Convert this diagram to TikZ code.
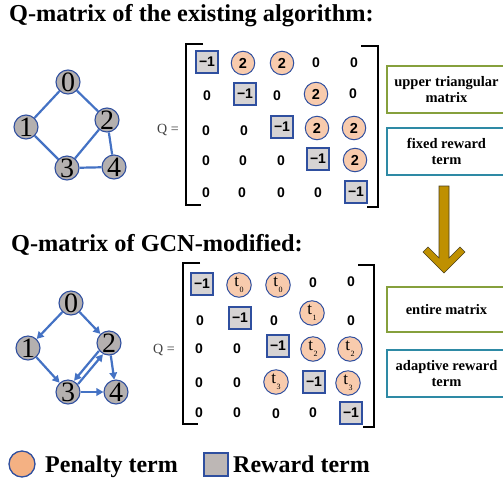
\documentclass[tikz,border=0pt]{standalone}
\usepackage{fontspec}
\setmainfont{Liberation Serif}
\newfontfamily\numfont{Liberation Sans}
\usetikzlibrary{arrows.meta}

\definecolor{edgeblue}{HTML}{4472C4}
\definecolor{rimblue}{HTML}{2F4F9F}
\definecolor{nodegray}{HTML}{B4B0AF}
\definecolor{peach}{HTML}{F8CBAD}
\definecolor{peachdark}{HTML}{F4B183}
\definecolor{cellgray}{HTML}{D6D3D3}
\definecolor{keygray}{HTML}{BDB7B5}
\definecolor{boxgreen}{HTML}{86A03C}
\definecolor{boxteal}{HTML}{2E8AA5}
\definecolor{arrowgold}{HTML}{BF9000}
\definecolor{arrowrim}{HTML}{4A3F1E}

\newcommand{\tsub}[1]{t\kern0.6pt\raisebox{-6pt}{\fontsize{8}{8}\selectfont #1}}

\tikzset{
  gnode/.style={circle, draw=rimblue, fill=nodegray, line width=1.1pt,
    minimum size=24pt, inner sep=0pt, font=\fontsize{28}{28}\selectfont},
  gedge/.style={draw=edgeblue, line width=2.2pt},
  garrow/.style={gedge, -{Triangle[length=7pt,width=7.5pt]}},
  pen/.style={circle, draw=rimblue, fill=peach, line width=1pt,
    minimum size=23.5pt, inner sep=0pt,
    font=\numfont\bfseries\fontsize{14.5}{14.5}\selectfont},
  tpen/.style={pen, minimum size=24.5pt, font=\fontsize{17}{17}\selectfont},
  rew/.style={rectangle, draw=rimblue, fill=cellgray, line width=1.1pt,
    minimum width=22pt, minimum height=22pt, inner sep=0pt,
    font=\numfont\bfseries\fontsize{14}{14}\selectfont},
  zero/.style={inner sep=0pt, font=\numfont\bfseries\fontsize{14}{14}\selectfont},
  brk/.style={draw=black, line width=2.6pt},
  qlabel/.style={inner sep=0pt, text=black!75, font=\fontsize{14}{14}\selectfont},
  note/.style={rectangle, draw, line width=2pt, fill=white,
    minimum width=119pt, align=center,
    font=\bfseries\fontsize{14.5}{16}\selectfont},
  heading/.style={anchor=base west, inner sep=0pt,
    font=\bfseries\fontsize{24.3}{24}\selectfont},
  keytext/.style={anchor=base west, inner sep=0pt,
    font=\bfseries\fontsize{24}{24}\selectfont},
}

\begin{document}
\begin{tikzpicture}[x=1pt, y=-1pt]
\useasboundingbox (0,0) rectangle (503,483);

% ---------- headings ----------
\node[heading] (h1) at (9,21) {Q-matrix of the existing algorithm:};
\node[heading] (h2) at (11,251) {Q-matrix of GCN-modified:};

% ---------- undirected graph ----------
\node[gnode] (a0) at (68,82) {0};
\node[gnode] (a1) at (26,127) {1};
\node[gnode] (a2) at (107,120) {2};
\node[gnode] (a3) at (67,168) {3};
\node[gnode] (a4) at (114,167) {4};
\path[gedge] (a0) -- (a1);
\path[gedge] (a0) -- (a2);
\path[gedge] (a1) -- (a3);
\path[gedge] (a2) -- (a3);
\path[gedge] (a2) -- (a4);
\path[gedge] (a3) -- (a4);

% ---------- directed graph ----------
\node[gnode] (b0) at (71,303) {0};
\node[gnode] (b1) at (28,348) {1};
\node[gnode] (b2) at (109,343) {2};
\node[gnode] (b3) at (68,392) {3};
\node[gnode] (b4) at (116,392) {4};
\draw[garrow] (b0) -- (b1);
\draw[garrow] (b0) -- (b2);
\draw[garrow] (b1) -- (b3);
\draw[garrow, transform canvas={shift={(-2pt,1.7pt)}}] (b2) -- (b3);
\draw[garrow, transform canvas={shift={(2pt,-1.7pt)}}] (b3) -- (b2);
\draw[garrow] (b2) -- (b4);
\draw[garrow] (b3) -- (b4);

% ---------- first Q-matrix ----------
\node[qlabel] (q1) at (168,130) {Q =};
\draw[brk] (203,44) -- (186,44) -- (186,205) -- (201,205);
\draw[brk] (361,46) -- (378,46) -- (378,207) -- (367,207);

\node[rew]  (p11) at (207,62) {−1};
\node[pen]  (p12) at (243,63) {2};
\node[pen]  (p13) at (282,63) {2};
\node[zero] (p14) at (316,63) {0};
\node[zero] (p15) at (354,63) {0};

\node[zero] (p21) at (207,96) {0};
\node[rew]  (p22) at (245,94) {−1};
\node[zero] (p23) at (277,96) {0};
\node[pen]  (p24) at (316,94) {2};
\node[zero] (p25) at (353,94) {0};

\node[zero] (p31) at (206,131) {0};
\node[zero] (p32) at (244,131) {0};
\node[rew]  (p33) at (282,127) {−1};
\node[pen]  (p34) at (317,128) {2};
\node[pen]  (p35) at (354,128) {2};

\node[zero] (p41) at (206,161) {0};
\node[zero] (p42) at (243,161) {0};
\node[zero] (p43) at (281,161) {0};
\node[rew]  (p44) at (318,159) {−1};
\node[pen]  (p45) at (355,160) {2};

\node[zero] (p51) at (206,193) {0};
\node[zero] (p52) at (242,193) {0};
\node[zero] (p53) at (281,193) {0};
\node[zero] (p54) at (318,193) {0};
\node[rew]  (p55) at (356,192) {−1};

% ---------- second Q-matrix ----------
\node[qlabel] (q2) at (164,350) {Q =};
\draw[brk] (200,263) -- (183,263) -- (183,424) -- (198,424);
\draw[brk] (358,265) -- (374,265) -- (374,427) -- (363,427);

\node[rew]  (r11) at (202,284) {−1};
\node[tpen] (r12) at (239,285) {\tsub{0}};
\node[tpen] (r13) at (278,285) {\tsub{0}};
\node[zero] (r14) at (313,283) {0};
\node[zero] (r15) at (351,282) {0};

\node[zero] (r21) at (200,321) {0};
\node[rew]  (r22) at (240,318) {−1};
\node[zero] (r23) at (274,321) {0};
\node[tpen] (r24) at (312,313) {\tsub{1}};
\node[zero] (r25) at (351,321) {0};

\node[zero] (r31) at (199,349) {0};
\node[zero] (r32) at (237,349) {0};
\node[rew]  (r33) at (278,346) {−1};
\node[tpen] (r34) at (313,349) {\tsub{2}};
\node[tpen] (r35) at (350,349) {\tsub{2}};

\node[zero] (r41) at (199,383) {0};
\node[zero] (r42) at (237,383) {0};
\node[tpen] (r43) at (276,382) {\tsub{3}};
\node[rew]  (r44) at (314,382) {−1};
\node[tpen] (r45) at (348,383) {\tsub{3}};

\node[zero] (r51) at (199,413) {0};
\node[zero] (r52) at (237,413) {0};
\node[zero] (r53) at (276,414) {0};
\node[zero] (r54) at (313,413) {0};
\node[rew]  (r55) at (351,413) {−1};

% ---------- side notes ----------
\node[note, draw=boxgreen, minimum height=47pt] (n1) at (446.5,89.5)
  {upper triangular\\matrix};
\node[note, draw=boxteal, minimum height=47pt] (n2) at (446.5,151.5)
  {fixed reward\\term};
\node[note, draw=boxgreen, minimum height=45pt] (n3) at (446.5,309.5)
  {entire matrix};
\node[note, draw=boxteal, minimum height=47pt] (n4) at (446.5,373.5)
  {adaptive reward\\term};

% ---------- transition arrow ----------
\draw[fill=arrowgold, draw=arrowrim, line width=0.6pt, line join=miter]
  (439,186) -- (439,258) -- (428,247) -- (423,252) -- (444,273)
  -- (465,252) -- (460,247) -- (449,258) -- (449,186) -- cycle;

% ---------- legend ----------
\node[circle, draw=rimblue, fill=peachdark, line width=1.3pt,
  minimum size=26pt, inner sep=0pt] (k1) at (22,464) {};
\node[keytext] (k1t) at (45,472) {Penalty term};
\node[rectangle, draw=rimblue, fill=keygray, line width=1.3pt,
  minimum width=24pt, minimum height=23pt, inner sep=0pt] (k2) at (216,464.5) {};
\node[keytext] (k2t) at (233,472) {Reward term};
\end{tikzpicture}
\end{document}
